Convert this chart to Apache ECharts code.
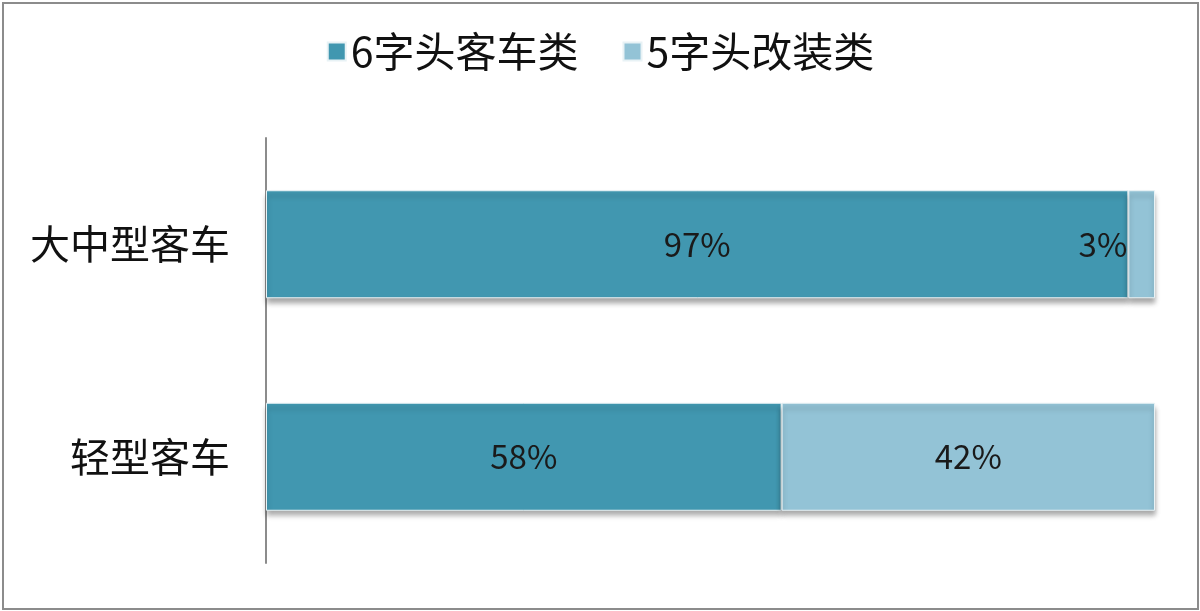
<!DOCTYPE html>
<html>
<head>
<meta charset="utf-8">
<script src="https://cdn.jsdelivr.net/npm/echarts@6/dist/echarts.min.js"></script>
<style>
  html, body { margin: 0; padding: 0; background: #fff; }
  #main { position: absolute; left: 2px; top: 2px; width: 1193px; height: 604px; border: 2px solid #8c8c8c; }
</style>
</head>
<body>
<div id="main"></div>
<script>
// 客车类别
var categories = ['大中型客车', '轻型客车'];
var seriesNames = ['6字头客车类', '5字头改装类'];
// 占比(%)
var share6 = [97, 58];
var share5 = [3, 42];

var chart = echarts.init(document.getElementById('main'));
var font = 'Noto Sans CJK SC';

function barItems(values) {
    return values.map(function (v) {
        var item = { value: v };
        // 太窄的段，标签放在左边
        if (v < 10) {
            item.label = { position: 'left', distance: 1 };
        }
        return item;
    });
}

var barStyle = function (color) {
    return {
        color: color,
        borderColor: '#e8f2f5',
        borderWidth: 1,
        shadowColor: 'rgba(0,0,0,0.35)',
        shadowBlur: 5,
        shadowOffsetY: 5
    };
};

var barLabel = {
    show: true,
    position: 'inside',
    formatter: '{c}%',
    fontSize: 33,
    color: '#1a1a1a',
    fontFamily: font
};

var option = {
    backgroundColor: '#fff',
    textStyle: { fontFamily: font },
    legend: {
        top: 22,
        left: 'center',
        itemWidth: 18,
        itemHeight: 18,
        itemGap: 44,
        icon: 'rect',
        textStyle: { fontSize: 41, color: '#111', fontFamily: font, padding: [0, 0, 0, 0] },
        data: seriesNames
    },
    grid: {
        left: 262,
        right: 42,
        top: 134,
        bottom: 45
    },
    xAxis: {
        type: 'value',
        min: 0,
        max: 100,
        show: false
    },
    yAxis: {
        type: 'category',
        inverse: true,
        data: categories,
        axisLine: { show: true, lineStyle: { color: '#8c8c8c', width: 2 } },
        axisTick: { show: false },
        axisLabel: { fontSize: 40, color: '#111', margin: 36, fontFamily: font }
    },
    series: [
        {
            name: seriesNames[0],
            type: 'bar',
            stack: 'total',
            barWidth: 108,
            data: barItems(share6),
            itemStyle: barStyle('#4197b0'),
            label: barLabel
        },
        {
            name: seriesNames[1],
            type: 'bar',
            stack: 'total',
            barWidth: 108,
            data: barItems(share5),
            itemStyle: barStyle('#93c3d6'),
            label: barLabel
        }
    ]
};

chart.setOption(option);
</script>
</body>
</html>
